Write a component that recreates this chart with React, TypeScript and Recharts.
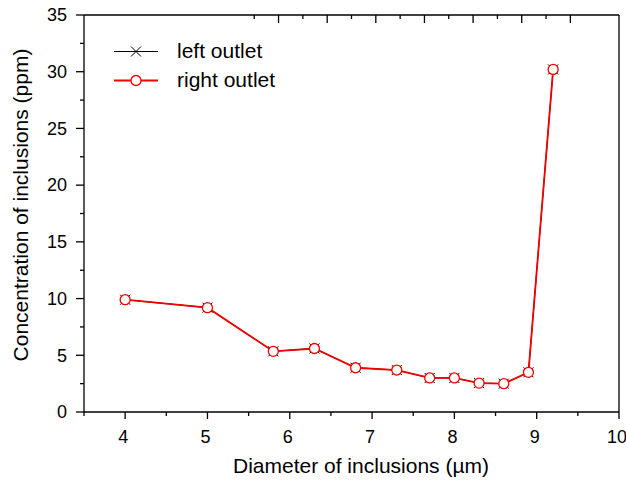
import { LineChart, Line, XAxis, YAxis, Legend } from "recharts";

// diameter of inclusions (µm)
const diameters = [4, 5, 5.8, 6.3, 6.8, 7.3, 7.7, 8.0, 8.3, 8.6, 8.9, 9.2];
// concentration (ppm)
const leftOutlet = [9.9, 9.2, 5.35, 5.6, 3.9, 3.7, 3.0, 3.0, 2.55, 2.5, 3.5, 30.2];
const rightOutlet = [9.9, 9.2, 5.35, 5.6, 3.9, 3.7, 3.0, 3.0, 2.55, 2.5, 3.5, 30.2];

const xTicks = [3.5, 4, 4.5, 5, 5.5, 6, 6.5, 7, 7.5, 8, 8.5, 9, 9.5, 10];
const yTicks = [0, 2.5, 5, 7.5, 10, 12.5, 15, 17.5, 20, 22.5, 25, 27.5, 30, 32.5, 35];

const data = diameters.map((d, i) => ({
  diameter: d,
  left: leftOutlet[i],
  right: rightOutlet[i],
}));

const FONT = '"Liberation Sans", Arial, Helvetica, sans-serif';
const AX = 1.3;

function BottomTick({ x, y, payload }: any) {
  const v = payload.value;
  const major = Number.isInteger(v);
  return (
    <g>
      <line x1={x} y1={y} x2={x} y2={y + (major ? 7 : 4)} stroke="#000" strokeWidth={AX} />
      {major && (
        <text x={x - 2} y={y + 31} textAnchor="middle" fontSize={18} fontFamily={FONT} fill="#000">
          {v}
        </text>
      )}
    </g>
  );
}

function TopTick({ x, y, payload }: any) {
  const major = Number.isInteger(payload.value);
  return <line x1={x} y1={y} x2={x} y2={y + (major ? 8 : 4)} stroke="#000" strokeWidth={AX} />;
}

function LeftTick({ x, y, payload }: any) {
  const v = payload.value;
  const major = v % 5 === 0;
  return (
    <g>
      <line x1={x - (major ? 8 : 4)} y1={y} x2={x} y2={y} stroke="#000" strokeWidth={AX} />
      {major && (
        <text x={x - 17} y={y} dy="0.35em" textAnchor="end" fontSize={18} fontFamily={FONT} fill="#000">
          {v}
        </text>
      )}
    </g>
  );
}

function RightTick({ x, y, payload }: any) {
  const major = payload.value % 5 === 0;
  return <line x1={x} y1={y} x2={x + (major ? 8 : 4)} y2={y} stroke="#000" strokeWidth={AX} />;
}

function CrossMark({ cx, cy }: any) {
  const s = 5;
  return (
    <g>
      <line x1={cx - s} y1={cy - s} x2={cx + s} y2={cy + s} stroke="#000" strokeWidth={1} />
      <line x1={cx - s} y1={cy + s} x2={cx + s} y2={cy - s} stroke="#000" strokeWidth={1} />
    </g>
  );
}

function CircleMark({ cx, cy }: any) {
  return <circle cx={cx} cy={cy} r={5} fill="#fff" stroke="#f00000" strokeWidth={1.3} />;
}

function LegendBox({ payload }: any) {
  return (
    <div style={{ fontFamily: FONT, fontSize: 21, color: "#000" }}>
      {(payload || []).map((entry: any) => {
        const isLeft = entry.dataKey === "left";
        return (
          <div key={entry.value} style={{ display: "flex", alignItems: "center", height: 29, whiteSpace: "nowrap" }}>
            <svg width={44} height={29} style={{ marginRight: 19 }}>
              <line x1={0} y1={14.5} x2={44} y2={14.5} stroke={isLeft ? "#000" : "#f00000"} strokeWidth={isLeft ? 1 : 1.8} />
              {isLeft ? <CrossMark cx={22} cy={14.5} /> : <CircleMark cx={22} cy={14.5} />}
            </svg>
            <span>{entry.value}</span>
          </div>
        );
      })}
    </div>
  );
}

export default function App() {
  return (
    <div style={{ position: "absolute", left: 0, top: 0, width: 626, height: 480, background: "#fff" }}>
      <LineChart width={626} height={480} data={data} margin={{ top: 0, right: 0, bottom: 0, left: 0 }}>
        <XAxis
          xAxisId="bottom"
          dataKey="diameter"
          type="number"
          domain={[3.5, 10]}
          ticks={xTicks}
          interval={0}
          height={68}
          tickSize={0}
          tickMargin={0}
          tickLine={false}
          tick={<BottomTick />}
          axisLine={{ stroke: "#000", strokeWidth: AX }}
          label={{
            content: () => (
              <text x={361} y={473} textAnchor="middle" fontSize={21} fontFamily={FONT} fill="#000">
                Diameter of inclusions (µm)
              </text>
            ),
          }}
        />
        <XAxis
          xAxisId="top"
          orientation="top"
          type="number"
          domain={[3.5, 10]}
          ticks={xTicks}
          interval={0}
          height={15}
          tickSize={0}
          tickMargin={0}
          tickLine={false}
          tick={<TopTick />}
          axisLine={{ stroke: "#000", strokeWidth: AX }}
        />
        <YAxis
          yAxisId="left"
          type="number"
          domain={[0, 35]}
          ticks={yTicks}
          interval={0}
          width={84}
          tickSize={0}
          tickMargin={0}
          tickLine={false}
          tick={<LeftTick />}
          axisLine={{ stroke: "#000", strokeWidth: AX }}
          label={{
            content: () => (
              <text
                x={28}
                y={205}
                transform="rotate(-90 28 205)"
                textAnchor="middle"
                fontSize={21}
                fontFamily={FONT}
                fill="#000"
              >
                Concentration of inclusions (ppm)
              </text>
            ),
          }}
        />
        <YAxis
          yAxisId="right"
          orientation="right"
          type="number"
          domain={[0, 35]}
          ticks={yTicks}
          interval={0}
          width={7}
          tickSize={0}
          tickMargin={0}
          tickLine={false}
          tick={<RightTick />}
          axisLine={{ stroke: "#000", strokeWidth: AX }}
        />
        <Legend
          layout="vertical"
          verticalAlign="middle"
          align="center"
          wrapperStyle={{ left: 114, top: 36.5, width: "auto" }}
          content={<LegendBox />}
        />
        <Line
          xAxisId="bottom"
          yAxisId="left"
          dataKey="left"
          name="left outlet"
          stroke="#000"
          strokeWidth={1}
          isAnimationActive={false}
          dot={(p: any) => <CrossMark key={`l${p.index}`} cx={p.cx} cy={p.cy} />}
        />
        <Line
          xAxisId="bottom"
          yAxisId="left"
          dataKey="right"
          name="right outlet"
          stroke="#f00000"
          strokeWidth={1.8}
          isAnimationActive={false}
          dot={(p: any) => <CircleMark key={`r${p.index}`} cx={p.cx} cy={p.cy} />}
        />
      </LineChart>
    </div>
  );
}
